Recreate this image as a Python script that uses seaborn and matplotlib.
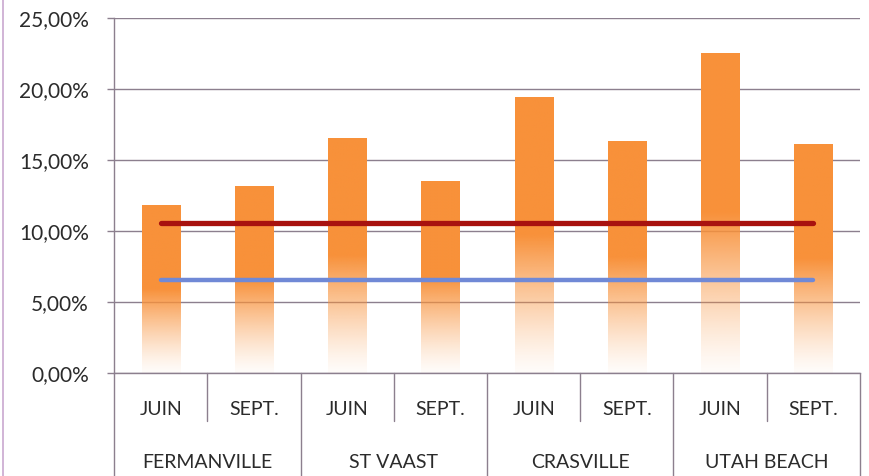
import numpy as np
import pandas as pd
import matplotlib
matplotlib.use("Agg")
import matplotlib.pyplot as plt
import matplotlib.transforms as mtransforms
from matplotlib.ticker import FuncFormatter
import seaborn as sns

# Data
sites = ["FERMANVILLE", "ST VAAST", "CRASVILLE", "UTAH BEACH"]
months = ["JUIN", "SEPT."]
rates = [11.8, 13.1, 16.5, 13.5, 19.4, 16.3, 22.5, 16.1]
threshold_red = [10.55, 10.55, 10.55, 10.55, 10.55, 10.55, 10.55, 10.55]
threshold_blue = [6.55, 6.55, 6.55, 6.55, 6.55, 6.55, 6.55, 6.55]
y_ticks = [0, 5, 10, 15, 20, 25]

bar_color = "#F8913A"
red_color = "#A8120F"
blue_color = "#7089D6"
grid_color = "#8C7F8E"
text_color = "#2B2B2B"

sns.set_theme(style="white")
plt.rcParams["font.family"] = ["Lato", "DejaVu Sans"]

rows = [(s, m) for s in sites for m in months]
df = pd.DataFrame({
    "label": [f"{s}|{m}" for s, m in rows],
    "site": [s for s, _ in rows],
    "month": [m for _, m in rows],
    "rate": rates,
})

fig = plt.figure(figsize=(8.7, 4.76), dpi=100)
ax = fig.add_axes([114 / 870, 1 - 373 / 476, (860 - 114) / 870, (373 - 18) / 476])

sns.barplot(data=df, x="label", y="rate", color=bar_color, width=0.41,
            saturation=1, ax=ax, zorder=2)

# Replace each flat bar with a vertical gradient: solid on top, fading to white at the base
rgb = np.array(matplotlib.colors.to_rgb(bar_color))
for patch in ax.patches:
    x0, w, h = patch.get_x(), patch.get_width(), patch.get_height()
    n = 256
    t = np.linspace(0, 1, n)  # 0 at bottom, 1 at top
    alpha = np.clip(t / 0.5, 0, 1) ** 1.3
    alpha = 0.03 + 0.97 * alpha
    img = np.zeros((n, 1, 4))
    img[:, 0, :3] = rgb
    img[:, 0, 3] = alpha
    ax.imshow(img, extent=[x0, x0 + w, 0, h], origin="lower", aspect="auto",
              interpolation="bilinear", zorder=2)
    patch.set_visible(False)

xs = np.arange(len(rates))
sns.lineplot(x=xs, y=threshold_red, color=red_color, lw=3.8, ax=ax, zorder=3,
             solid_capstyle="round")
sns.lineplot(x=xs, y=threshold_blue, color=blue_color, lw=3.2, ax=ax, zorder=3,
             solid_capstyle="round")

ax.set_xlim(-0.5, len(rates) - 0.5)
ax.set_ylim(0, 25)
ax.set_yticks(y_ticks)
ax.yaxis.set_major_formatter(FuncFormatter(lambda v, _: f"{v:.2f}".replace(".", ",") + "%"))
ax.grid(axis="y", color=grid_color, lw=1.0, zorder=0)
ax.set_axisbelow(True)
ax.tick_params(axis="y", length=5, width=1.0, color=grid_color, pad=13,
               labelsize=15, labelcolor=text_color, left=True)
ax.set_xticks([])
ax.set_xlabel("")
ax.set_ylabel("")
for side in ["top", "right"]:
    ax.spines[side].set_visible(False)
ax.spines["left"].set_color(grid_color)
ax.spines["bottom"].set_color(grid_color)
ax.spines["left"].set_linewidth(1.0)
ax.spines["bottom"].set_linewidth(1.0)

# Two-level category axis
trans = mtransforms.blended_transform_factory(ax.transData, ax.transAxes)
y_month = -0.104
y_site = -0.252
y_short = -0.135
y_long = -0.30
for i, (s, m) in enumerate(rows):
    ax.text(i, y_month, m, transform=trans, ha="center", va="center",
            fontsize=14, color=text_color)
for j, s in enumerate(sites):
    ax.text(2 * j + 0.5, y_site, s, transform=trans, ha="center", va="center",
            fontsize=14, color=text_color)
for k in range(len(rows) + 1):
    xb = k - 0.5
    bottom = y_long if k % 2 == 0 else y_short
    ax.plot([xb, xb], [0, bottom], transform=trans, color=grid_color, lw=1.0,
            clip_on=False)

# Thin chart border at the left edge
fig.add_artist(plt.Line2D([0.003, 0.003], [0, 1], transform=fig.transFigure,
                          color="#C9A8CF", lw=1.2))

fig.savefig("out.png", dpi=100)
